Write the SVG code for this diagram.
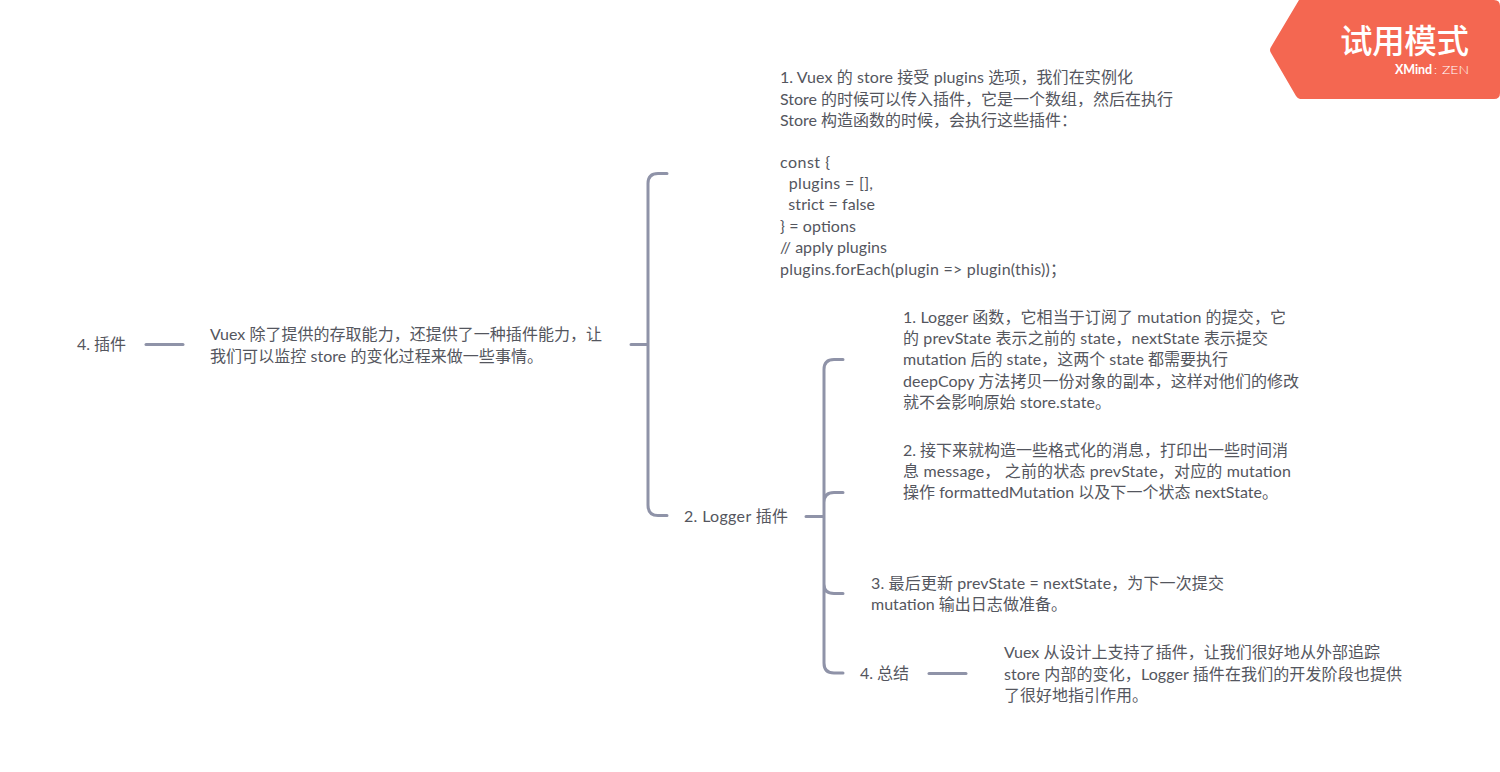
<svg xmlns="http://www.w3.org/2000/svg" width="1500" height="772" viewBox="0 0 1500 772">
<style>
text{font-family:"Lato","Noto Sans CJK SC",sans-serif;font-size:16px;fill:#54565e;white-space:pre}
.c{fill:none;stroke:#8f93a8;stroke-width:3;stroke-linecap:round}
</style>
<rect width="1500" height="772" fill="#fff"/>
<g id="connectors">
<path class="c" d="M146 344.500H183"/>
<path class="c" d="M631 344.500H648M667 173.500H658Q648 173.500 648 183.500V505Q648 515.500 658 515.500H667"/>
<path class="c" d="M806 516.500H824M843 359.500H834Q824 359.500 824 369.500V663Q824 673 834 673H843M843 492.500H834Q824 492.500 824 502.500M824 584Q824 593.500 834 593.500H843"/>
<path class="c" d="M929 673.500H966"/>
</g>
<g id="node-root"><text x="77" y="350" textLength="49">4. 插件</text></g>
<g id="node-intro"><text x="210" y="340" textLength="392">Vuex 除了提供的存取能力，还提供了一种插件能力，让</text><text x="210" y="362" textLength="333">我们可以监控 store 的变化过程来做一些事情。</text></g>
<g id="node-vuex-store">
<text x="780" y="82.500" textLength="353">1. Vuex 的 store 接受 plugins 选项，我们在实例化</text>
<text x="780" y="104.500" textLength="393">Store 的时候可以传入插件，它是一个数组，然后在执行</text>
<text x="780" y="125.500" textLength="297">Store 构造函数的时候，会执行这些插件：</text>
<text x="780" y="168" textLength="50">const {</text>
<text x="780" y="189" textLength="93">  plugins = [],</text>
<text x="780" y="210" textLength="95">  strict = false</text>
<text x="780" y="232" textLength="76">} = options</text>
<text x="780" y="253" textLength="107">// apply plugins</text>
<text x="780" y="275" textLength="286">plugins.forEach(plugin =&gt; plugin(this))；</text>
</g>
<g id="node-logger"><text x="684" y="522" textLength="104">2. Logger 插件</text></g>
<g id="node-logger-1">
<text x="903" y="322.500" textLength="383">1. Logger 函数，它相当于订阅了 mutation 的提交，它</text>
<text x="903" y="344" textLength="365">的 prevState 表示之前的 state，nextState 表示提交</text>
<text x="903" y="365" textLength="325">mutation 后的 state，这两个 state 都需要执行</text>
<text x="903" y="387" textLength="396">deepCopy 方法拷贝一份对象的副本，这样对他们的修改</text>
<text x="903" y="408" textLength="208">就不会影响原始 store.state。</text>
</g>
<g id="node-logger-2">
<text x="903" y="455.500" textLength="385">2. 接下来就构造一些格式化的消息，打印出一些时间消</text>
<text x="903" y="477" textLength="388">息 message， 之前的状态 prevState，对应的 mutation</text>
<text x="903" y="498" textLength="375">操作 formattedMutation 以及下一个状态 nextState。</text>
</g>
<g id="node-logger-3">
<text x="871" y="589" textLength="353">3. 最后更新 prevState = nextState，为下一次提交</text>
<text x="871" y="610" textLength="196">mutation 输出日志做准备。</text>
</g>
<g id="node-summary"><text x="860" y="679" textLength="49">4. 总结</text></g>
<g id="node-summary-text">
<text x="1004" y="658" textLength="376">Vuex 从设计上支持了插件，让我们很好地从外部追踪</text>
<text x="1004" y="680" textLength="398">store 内部的变化，Logger 插件在我们的开发阶段也提供</text>
<text x="1004" y="701" textLength="144">了很好地指引作用。</text>
</g>
<g id="badge">
<path d="M1299 0H1494Q1500 0 1500 6V93Q1500 99 1494 99H1300Q1298 99 1296 96L1271 53Q1269 50 1271 47L1299 0Z" fill="#f46751"/>
<text x="1340" y="53" textLength="129" style="font-size:32.500px;font-weight:500;fill:#fff">试用模式</text>
<text x="1395" y="74" textLength="37" style="font-size:12.500px;font-weight:700;fill:#fff">XMind</text>
<text x="1434" y="74" style="font-size:12.500px;font-weight:300;fill:#fff">:</text>
<text x="1442" y="74" textLength="27" lengthAdjust="spacingAndGlyphs" style="font-size:12.500px;font-weight:300;fill:#fff">ZEN</text>
</g>
</svg>
